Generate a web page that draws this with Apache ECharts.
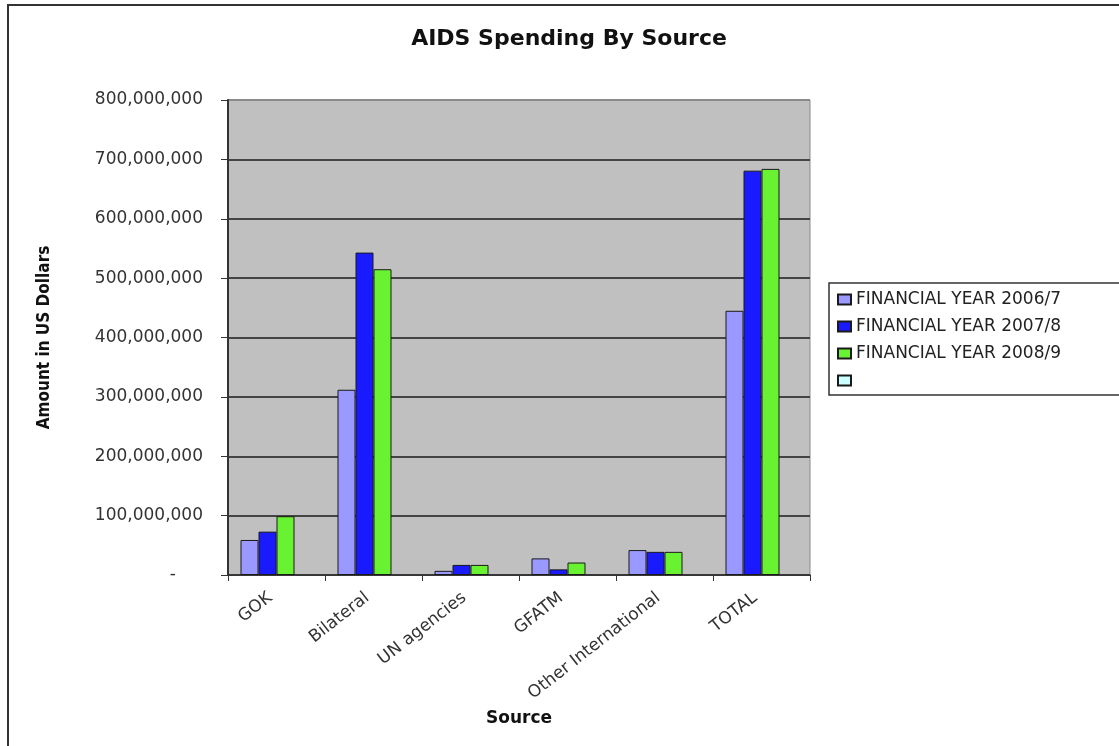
<!DOCTYPE html>
<html>
<head>
<meta charset="utf-8">
<title>AIDS Spending By Source</title>
<script src="https://cdn.jsdelivr.net/npm/echarts@6/dist/echarts.min.js"></script>
<style>
  html, body { margin: 0; padding: 0; background: #ffffff; }
  #chart { width: 1119px; height: 746px; }
</style>
</head>
<body>
<div id="chart"></div>
<script>
// Funding sources along the category axis
const sources = ['GOK', 'Bilateral', 'UN agencies', 'GFATM', 'Other International', 'TOTAL'];

// Spending per source, in US dollars
const fy2006 = [59000000, 312000000, 7000000, 28000000, 42000000, 445000000];
const fy2007 = [73000000, 543000000, 17000000, 9500000, 39000000, 681000000];
const fy2008 = [99000000, 515000000, 17000000, 21000000, 39000000, 684000000];
const fyBlank = [null, null, null, null, null, null];

const seriesNames = ['FINANCIAL YEAR 2006/7', 'FINANCIAL YEAR 2007/8', 'FINANCIAL YEAR 2008/9', ' '];
const seriesColors = ['#9999ff', '#1a1aff', '#69f232', '#ccffff'];

const yTicks = { min: 0, max: 800000000, interval: 100000000 };

function fmtAmount(v) {
  if (v === 0) return '-     ';
  return String(v).replace(/\B(?=(\d{3})+(?!\d))/g, ',');
}

const chart = echarts.init(document.getElementById('chart'), null, { renderer: 'canvas' });

const seriesData = [fy2006, fy2007, fy2008, fyBlank];

chart.setOption({
  animation: false,
  backgroundColor: '#ffffff',
  textStyle: { fontFamily: 'DejaVu Sans' },
  title: {
    text: 'AIDS Spending By Source',
    left: 564,
    textAlign: 'center',
    top: 23,
    textStyle: { fontFamily: 'DejaVu Sans', fontWeight: 'bold', fontSize: 22, color: '#111' }
  },
  graphic: [{
    type: 'rect',
    z: -1,
    shape: { x: 8, y: 5, width: 1140, height: 760 },
    style: { fill: 'none', stroke: '#333', lineWidth: 2 }
  }],
  legend: {
    left: 829,
    top: 283,
    orient: 'vertical',
    icon: 'rect',
    itemWidth: 13,
    itemHeight: 10,
    itemGap: 10,
    padding: [8, 80, 6, 8],
    borderColor: '#333',
    borderWidth: 1.5,
    data: seriesNames,
    textStyle: { fontFamily: 'DejaVu Sans', fontSize: 17, color: '#222' }
  },
  grid: {
    left: 228, right: 309, top: 100, bottom: 171,
    show: true,
    backgroundColor: '#c0c0c0',
    borderColor: '#8a8a8a',
    borderWidth: 1
  },
  xAxis: {
    type: 'category',
    data: sources,
    name: 'Source',
    nameLocation: 'middle',
    nameGap: 135,
    nameMoveOverlap: false,
    nameTextStyle: { fontFamily: 'DejaVu Sans', fontWeight: 'bold', fontSize: 17, color: '#111' },
    axisLine: { lineStyle: { color: '#333', width: 1.5 } },
    axisTick: { show: true, length: 6, lineStyle: { color: '#333' } },
    axisLabel: {
      rotate: 38, margin: 16, padding: [0, 8, 0, 0],
      fontSize: 17, color: '#333', fontFamily: 'DejaVu Sans'
    }
  },
  yAxis: {
    type: 'value',
    min: yTicks.min,
    max: yTicks.max,
    interval: yTicks.interval,
    name: 'Amount in US Dollars',
    nameLocation: 'middle',
    nameGap: 175,
    nameMoveOverlap: false,
    nameTextStyle: { fontFamily: 'DejaVu Sans Condensed', fontWeight: 'bold', fontSize: 17, color: '#111' },
    axisLine: { show: true, lineStyle: { color: '#333', width: 2 } },
    axisTick: { show: true, length: 7, lineStyle: { color: '#333' } },
    axisLabel: { margin: 25, fontSize: 17, color: '#333', fontFamily: 'DejaVu Sans', formatter: fmtAmount },
    splitLine: {
      show: true,
      lineStyle: {
        color: ['#444', '#444', '#444', '#444', '#444', '#444', '#444', '#444', '#8a8a8a'],
        width: 1.8
      }
    }
  },
  series: seriesNames.map((name, i) => ({
    name: name,
    type: 'bar',
    data: seriesData[i],
    barWidth: 18,
    barGap: '0%',
    itemStyle: { color: seriesColors[i], borderColor: '#1a1a1a', borderWidth: 1 }
  }))
});
</script>
</body>
</html>
